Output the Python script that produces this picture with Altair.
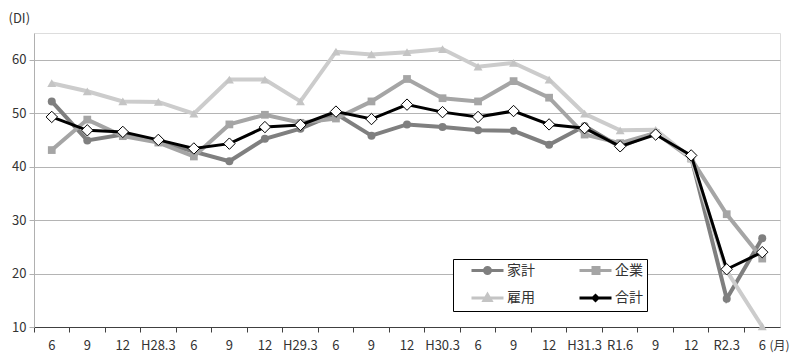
import json
import altair as alt
import pandas as pd

labels = ['6', '9', '12', 'H28.3', '6', '9', '12', 'H29.3', '6', '9', '12', 'H30.3',
          '6', '9', '12', 'H31.3', 'R1.6', '9', '12', 'R2.3', '6']

series_names = ['家計', '企業', '雇用', '合計']

kakei = [52.2, 44.9, 46.0, 44.7, 42.8, 41.0, 45.2, 47.1, 49.9, 45.8, 47.9, 47.4,
         46.8, 46.7, 44.1, 47.6, 43.7, 46.4, 41.7, 15.3, 26.6]
kigyo = [43.1, 48.8, 45.7, 44.5, 41.9, 47.9, 49.7, 48.2, 49.0, 52.2, 56.4, 52.8,
         52.2, 56.0, 52.9, 46.0, 44.4, 46.3, 41.5, 31.1, 22.8]
koyo = [55.6, 54.1, 52.2, 52.1, 49.9, 56.3, 56.3, 52.2, 61.5, 61.0, 61.4, 62.0,
        58.7, 59.4, 56.3, 49.9, 46.8, 46.9, 41.6, 20.5, 10.1]
gokei = [49.3, 46.8, 46.5, 45.0, 43.4, 44.3, 47.4, 47.8, 50.3, 48.9, 51.6, 50.2,
         49.3, 50.4, 47.9, 47.2, 43.8, 46.0, 42.1, 20.8, 24.0]

values = [kakei, kigyo, koyo, gokei]

line_colors = ['#7f7f7f', '#a5a5a5', '#cccccc', '#000000']
line_widths = [4, 4, 4, 3]
marker_shapes = ['circle', 'square', 'triangle-up', 'diamond']
marker_sizes = [64, 60, 80, 130]
marker_fills = ['#7f7f7f', '#a5a5a5', '#c4c4c4', '#ffffff']
marker_strokes = ['#7f7f7f', '#a5a5a5', '#c4c4c4', '#000000']
marker_stroke_widths = [0, 0, 0, 1]

legend_paths = [
    'M1.5,0H7.9M4.1,0A0.6,0.6,0,1,1,5.3,0A0.6,0.6,0,1,1,4.1,0Z',
    'M1.5,0H7.9M4.2,-0.6H5.4V0.6H4.2Z',
    'M1.5,0H7.9M4.7,-0.7L5.4,0.5H4.0Z',
    'M1.5,0H7.9M4.7,-0.5L5.2,0L4.7,0.5L4.2,0Z',
]

rows = []
for name, vals in zip(series_names, values):
    for i, v in enumerate(vals):
        rows.append({'idx': i, 'series': name, 'value': v})
df = pd.DataFrame(rows)

FONT = 'Noto Sans CJK JP'
label_expr = json.dumps(labels) + '[datum.value]'

x_enc = alt.X(
    'idx:O',
    scale=alt.Scale(type='band', paddingInner=0, paddingOuter=0),
    axis=alt.Axis(
        labelExpr=label_expr, bandPosition=0, labelAngle=0,
        labelOverlap=False, labelFlush=False, labelPadding=7,
        labelFontSize=13, labelColor='#333333', labelFont=FONT,
        tickSize=5, tickColor='#404040', domainColor='#404040',
        title='(月)', titleX=735, titleY=18, titleAlign='left',
        titleBaseline='middle', titleFontWeight='normal', titleFontSize=12,
        titleColor='#333333', titleFont=FONT, grid=False,
    ),
)
y_enc = alt.Y(
    'value:Q',
    scale=alt.Scale(domain=[10, 65], nice=False, zero=False),
    axis=alt.Axis(
        values=[10, 20, 30, 40, 50, 60], labelFontSize=13, labelColor='#333333',
        labelFont=FONT, labelPadding=3, tickSize=5, tickColor='#b0b0b0',
        domainColor='#b0b0b0', gridColor='#b4b4b4', grid=True,
        title='(DI)', titleAngle=0, titleX=-26, titleY=-15, titleAlign='left',
        titleBaseline='middle', titleFontWeight='normal', titleFontSize=13,
        titleColor='#333333', titleFont=FONT,
    ),
)

layers = []
for k, name in enumerate(series_names):
    sub = alt.Chart(df).transform_filter(alt.datum.series == name)
    layers.append(sub.mark_line(color=line_colors[k], strokeWidth=line_widths[k])
                  .encode(x=x_enc, y=y_enc))
    layers.append(sub.mark_point(shape=marker_shapes[k], size=marker_sizes[k], filled=True,
                                 fill=marker_fills[k], stroke=marker_strokes[k],
                                 strokeWidth=marker_stroke_widths[k], opacity=1)
                  .encode(x=x_enc, y=y_enc))

leg = alt.Legend(
    title=None, orient='none', legendX=419, legendY=226, columns=2, direction='horizontal',
    symbolSize=100, symbolStrokeWidth=3, labelFontSize=14, labelFont=FONT,
    labelColor='#333333', labelOffset=36, columnPadding=30, rowPadding=8,
    padding=4, strokeColor='#000000', fillColor='#ffffff',
)

legend_layer = alt.Chart(df).transform_filter('false').mark_point(filled=True, opacity=1).encode(
    fill=alt.Fill('series:N', scale=alt.Scale(domain=series_names, range=marker_fills), legend=leg),
    stroke=alt.Stroke('series:N', scale=alt.Scale(domain=series_names, range=marker_strokes), legend=leg),
    shape=alt.Shape('series:N', scale=alt.Scale(domain=series_names, range=legend_paths), legend=leg),
)
layers.append(legend_layer)

chart = alt.layer(*layers).properties(
    width=746, height=294,
    autosize=alt.AutoSizeParams(type='none'),
    padding={'left': 26, 'top': 25, 'right': 12, 'bottom': 26},
).configure_view(stroke='#707070', strokeWidth=1).configure(font=FONT)

chart.save('out.html', embed_options={'renderer': 'svg', 'actions': False})
